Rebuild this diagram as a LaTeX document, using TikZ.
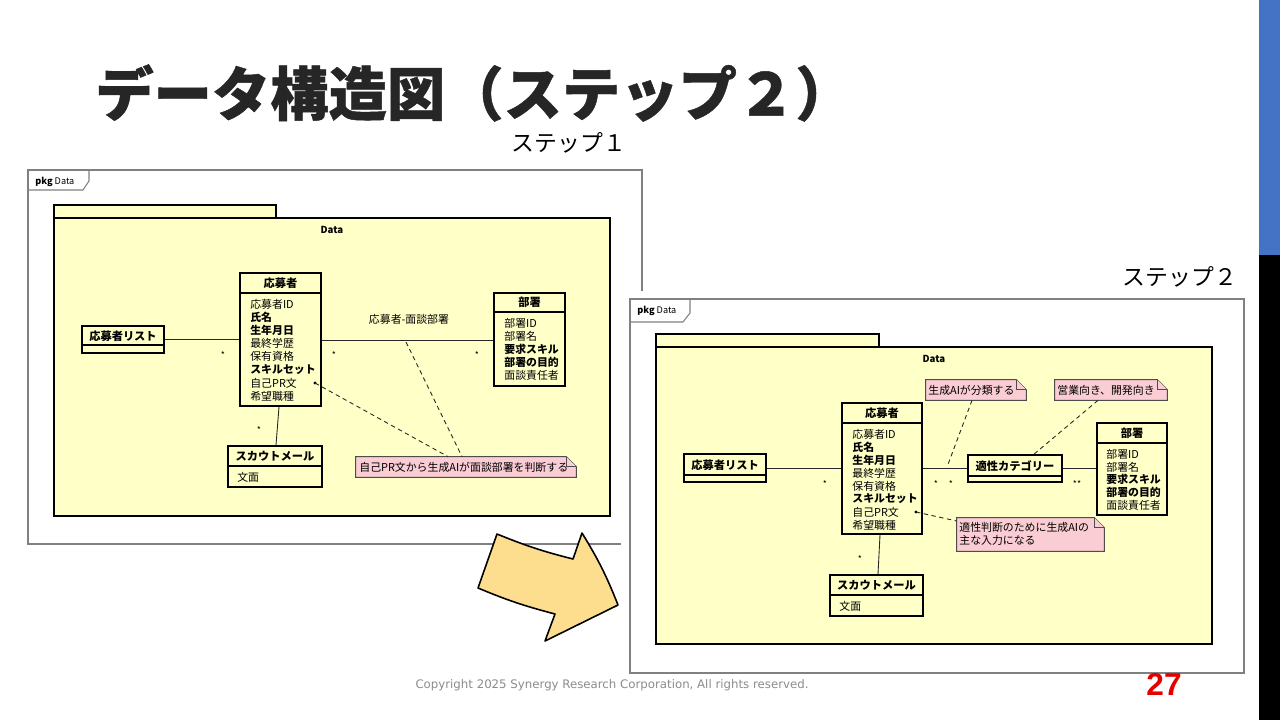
\documentclass[tikz,border=0pt]{standalone}
\usepackage{fontspec}
\setmainfont{Noto Sans CJK JP}
\newfontfamily\jp{Noto Sans CJK JP}
\newfontfamily\jptitle[BoldFeatures={FakeBold=0.8}]{Noto Sans CJK JP}
\newfontfamily\dejavu{DejaVu Sans}
\newfontfamily\libsans{Liberation Sans}
\definecolor{pkgfill}{HTML}{FFFFC8}
\definecolor{notefill}{HTML}{FACCD3}
\definecolor{arrowfill}{HTML}{FDDD8E}
\definecolor{barblue}{HTML}{4472C4}
\definecolor{titlegray}{HTML}{262626}
\definecolor{footgray}{HTML}{8C8C8C}
\definecolor{pagered}{HTML}{E50000}
\newcommand\mkbox[5]{\node[clsbox, minimum width={(#4-#2)*0.02cm}, minimum height={(#5-#3)*0.02cm}] (#1) at ({(#2+#4)/2},{(#3+#5)/2}) {};}
\newcommand\mknote[5]{%
  \node[inner sep=0, minimum width={(#4-#2)*0.02cm}, minimum height={(#5-#3)*0.02cm}] (#1) at ({(#2+#4)/2},{(#3+#5)/2}) {};
  \filldraw[notebd] (#1.south west) -- (#1.north west) -- ([xshift=-0.2cm]#1.north east) -- ([yshift=-0.2cm]#1.north east) -- (#1.south east) -- cycle;
  \draw[notebd] ([xshift=-0.2cm]#1.north east) -- ([xshift=-0.2cm,yshift=-0.2cm]#1.north east) -- ([yshift=-0.2cm]#1.north east);}
\begin{document}
\begin{tikzpicture}[x=0.02cm,y=-0.02cm,
  clsbox/.style={draw=black, line width=1pt, inner sep=0},
  divider/.style={draw=black, line width=0.6pt},
  pkgbox/.style={draw=black, fill=pkgfill, line width=0.9pt},
  frame/.style={draw=black!50, line width=0.6pt},
  assoc/.style={draw=black!85, line width=0.5pt},
  notebd/.style={draw=black!70, fill=notefill, line width=0.5pt, line join=miter},
  notelink/.style={draw=black!85, line width=0.5pt, dash pattern=on 2.5pt off 2pt},
  attr/.style={anchor=west, inner sep=0, font=\jp\fontsize{6.2}{7}\selectfont},
  ctitle/.style={inner sep=0, font=\jp\bfseries\fontsize{6.4}{7}\selectfont},
  mult/.style={inner sep=0, font=\jp\fontsize{5}{5}\selectfont},
  pkglab/.style={anchor=west, inner sep=0, font=\jp\fontsize{5.2}{6}\selectfont},
  steplab/.style={inner sep=0, font=\jp\fontsize{13}{15}\selectfont}]
\useasboundingbox (0,0) rectangle (1280,720);
\fill[white] (0,0) rectangle (1280,720);

% ---------------- title ----------------
\node[anchor=west, inner sep=0, text=titlegray, font=\jptitle\bfseries\fontsize{33.2}{38}\selectfont] (title) at (95,93) {データ構造図（ステップ２）};
\node[steplab] (step1) at (569,143) {ステップ１};

% ---------------- left diagram (step 1) ----------------
\draw[frame] (28,170) rectangle (642,544);
\draw[frame] (28,190) -- (83,190) -- (89,181) -- (89,170);
\node[pkglab] (lpkg) at (35,182) {\textbf{pkg} Data};
\filldraw[pkgbox] (54,205) rectangle (276,218);
\filldraw[pkgbox] (54,218) rectangle (610,516);
\node[ctitle, font=\jp\bfseries\fontsize{5.5}{6}\selectfont] (ldata) at (332,230) {Data};

\mkbox{LL}{82}{326}{164}{353}
\draw[divider] (82,345) -- (164,345);
\node[ctitle] (LLt) at (123,336) {応募者リスト};

\mkbox{LA}{240}{273}{321}{406}
\draw[divider] (240,293) -- (321,293);
\node[ctitle] (LAt) at (280.5,283.5) {応募者};
\foreach \t [count=\i from 0] in {応募者ID,{\bfseries 氏名},{\bfseries 生年月日},最終学歴,保有資格,{\bfseries スキルセット},自己PR文,希望職種}
  \node[attr] (la\i) at (250,{304+13.2*\i}) {\t};

\mkbox{LD}{494}{293}{565}{386}
\draw[divider] (494,312) -- (565,312);
\node[ctitle] (LDt) at (529.5,302.5) {部署};
\foreach \t [count=\i from 0] in {部署ID,部署名,{\bfseries 要求スキル},{\bfseries 部署の目的},面談責任者}
  \node[attr] (ld\i) at (504,{323+13.2*\i}) {\t};

\mkbox{LS}{228}{446}{322}{487}
\draw[divider] (228,466) -- (322,466);
\node[ctitle] (LSt) at (275,456.5) {スカウトメール};
\node[attr] (ls0) at (237,477) {文面};

\mknote{LN}{356}{457}{576}{477}
\node[attr] (LNt) at (359,467) {自己PR文から生成AIが面談部署を判断する};

\draw[assoc] (LL.east |- 0,339) -- (LA.west |- 0,339);
\draw[assoc] (LA.east |- 0,340) -- (LD.west |- 0,340);
\draw[assoc] (279,0 |- LA.south) -- (276,0 |- LS.north);
\node[attr, anchor=center] (lassoc) at (409,319) {応募者-面談部署};
\node[mult] (lm1) at (223,355) {*};
\node[mult] (lm2) at (334,355) {*};
\node[mult] (lm3) at (477,355) {*};
\node[mult] (lm4) at (259,430) {*};

\coordinate (ld1) at (315,383);
\coordinate (la1) at (406,342);
\fill (ld1) circle (1.6);
\draw[notelink] (ld1) -- (448,0 |- LN.north);
\draw[notelink] (la1) -- (462,0 |- LN.north);

% ---------------- right diagram (step 2) ----------------
\fill[white] (621,291) rectangle (1252,680);
\draw[frame] (630,299) rectangle (1244,673);
\draw[frame] (630,322) -- (683,322) -- (690,313) -- (690,299);
\node[pkglab] (rpkg) at (637,311) {\textbf{pkg} Data};
\filldraw[pkgbox] (656,334) rectangle (879,347);
\filldraw[pkgbox] (656,347) rectangle (1212,644);
\node[ctitle, font=\jp\bfseries\fontsize{5.5}{6}\selectfont] (rdata) at (934,359) {Data};

\mkbox{RL}{684}{454}{766}{482}
\draw[divider] (684,475) -- (766,475);
\node[ctitle] (RLt) at (725,465) {応募者リスト};

\mkbox{RA}{842}{403}{922}{534}
\draw[divider] (842,423) -- (922,423);
\node[ctitle] (RAt) at (882,413) {応募者};
\foreach \t [count=\i from 0] in {応募者ID,{\bfseries 氏名},{\bfseries 生年月日},最終学歴,保有資格,{\bfseries スキルセット},自己PR文,希望職種}
  \node[attr] (ra\i) at (852,{434+13*\i}) {\t};

\mkbox{RC}{968}{455}{1062}{482}
\draw[divider] (968,476) -- (1062,476);
\node[ctitle] (RCt) at (1015,466) {適性カテゴリー};

\mkbox{RD}{1097}{423}{1167}{515}
\draw[divider] (1097,443) -- (1167,443);
\node[ctitle] (RDt) at (1132,433) {部署};
\foreach \t [count=\i from 0] in {部署ID,部署名,{\bfseries 要求スキル},{\bfseries 部署の目的},面談責任者}
  \node[attr] (rd\i) at (1106,{454+12.9*\i}) {\t};

\mkbox{RS}{830}{575}{923}{616}
\draw[divider] (830,595) -- (923,595);
\node[ctitle] (RSt) at (876.5,585.5) {スカウトメール};
\node[attr] (rs0) at (839,606) {文面};

\mknote{RN1}{926}{380}{1026}{400}
\node[attr] (RN1t) at (928,390) {生成AIが分類する};
\mknote{RN2}{1055}{380}{1167}{400}
\node[attr] (RN2t) at (1057,390) {営業向き、開発向き};
\mknote{RN3}{957}{518}{1104}{551}
\node[attr] (RN3a) at (959,527.5) {適性判断のために生成AIの};
\node[attr] (RN3b) at (959,540.5) {主な入力になる};

\draw[assoc] (RL.east |- 0,468) -- (RA.west |- 0,468);
\draw[assoc] (RA.east |- 0,468) -- (RC.west |- 0,468);
\draw[assoc] (RC.east |- 0,468) -- (RD.west |- 0,468);
\draw[assoc] (880,0 |- RA.south) -- (878,0 |- RS.north);
\node[mult] (rm1) at (825,484) {*};
\node[mult] (rm2) at (936,484) {*};
\node[mult] (rm3) at (951,484) {*};
\node[mult] (rm4) at (1077,484) {**};
\node[mult] (rm5) at (860,559) {*};

\coordinate (ra1) at (947,467);
\coordinate (rd1) at (916,512);
\fill (rd1) circle (1.6);
\draw[notelink] (972,0 |- RN1.south) -- (ra1);
\draw[notelink] (1098,0 |- RN2.south) -- (1034,0 |- RC.north);
\draw[notelink] (rd1) -- (RN3.west |- 0,521);

\node[steplab] (step2) at (1180,277) {ステップ２};

% ---------------- arrow ----------------
\filldraw[fill=arrowfill, draw=black, line width=0.9pt, line join=round]
  (497,534) to[bend right=4] (573,559) -- (582,533) to[bend left=5] (618,605)
  -- (545,641) -- (555,614) to[bend left=4] (478,588) -- cycle;

% ---------------- side bar & footer ----------------
\fill[barblue] (1259,0) rectangle (1280,255);
\fill[black] (1259,255) rectangle (1280,720);
\node[inner sep=0, text=footgray, font=\dejavu\fontsize{6.7}{8}\selectfont] (foot) at (612,685) {Copyright 2025 Synergy Research Corporation, All rights reserved.};
\node[inner sep=0, text=pagered, font=\libsans\bfseries\fontsize{18}{20}\selectfont] (page) at (1164,684) {27};
\end{tikzpicture}
\end{document}
